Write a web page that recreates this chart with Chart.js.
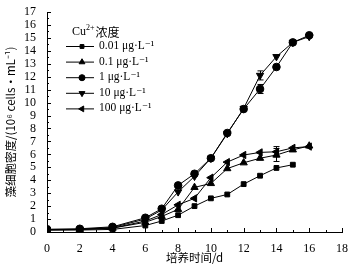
<!DOCTYPE html>
<html><head><meta charset="utf-8">
<script src="https://cdn.jsdelivr.net/npm/chart.js@4/dist/chart.umd.min.js"></script>
<style>html,body{margin:0;padding:0;background:#fff}#wrap{width:350px;height:270px}</style>
</head><body><div id="wrap"><canvas id="c" width="350" height="270"></canvas></div>
<script>
const days = [0, 2, 4, 6, 7, 8, 9, 10, 11, 12, 13, 14, 15, 16];
const seriesNames = ['0.01 μg·L⁻¹', '0.1 μg·L⁻¹', '1 μg·L⁻¹', '10 μg·L⁻¹', '100 μg·L⁻¹'];
const s001 = [0.15, 0.15, 0.2, 0.5, 0.85, 1.3, 2.0, 2.6, 2.9, 3.7, 4.35, 4.95, 5.2, null];
const s01  = [0.15, 0.2, 0.3, 0.75, 1.2, 1.75, 3.45, 3.75, 4.9, 5.35, 5.7, 5.95, 6.35, 6.65];
const s1   = [0.2, 0.25, 0.4, 1.1, 1.8, 3.6, 4.5, 5.7, 7.65, 9.5, 11.05, 12.75, 14.65, 15.2];
const s10  = [0.2, 0.2, 0.35, 1.0, 1.7, 3.1, 4.3, 5.7, 7.6, 9.55, 12.1, 13.55, 14.65, 15.1];
const s100 = [0.2, 0.2, 0.3, 0.85, 1.35, 2.1, 2.6, 4.2, 5.4, 5.95, 6.15, 6.2, 6.5, 6.6];
const e001 = [0, 0, 0, 0, 0, 0, 0, 0, 0, 0, 0, 0, 0, 0];
const e01  = [0, 0, 0, 0, 0, 0, 0, 0, 0, 0, 0, 0.5, 0, 0];
const e1   = [0, 0, 0, 0, 0, 0, 0, 0, 0, 0, 0.35, 0, 0, 0];
const e10  = [0, 0, 0, 0, 0, 0, 0, 0, 0, 0, 0.35, 0, 0, 0];
const e100 = [0, 0, 0, 0, 0, 0, 0, 0, 0, 0, 0, 0.4, 0, 0];
const legendTitle = 'Cu²⁺浓度';
const xTitle = '培养时间/d';
const yTitle = '藻细胞密度/(10⁶ cells·mL⁻¹)';

const SERIF = '"Liberation Serif","DejaVu Serif",serif';
const styles = [
  {pointStyle:'rect', rotation:0, radius:3.4},
  {pointStyle:'triangle', rotation:0, radius:4.2},
  {pointStyle:'circle', rotation:0, radius:3.8},
  {pointStyle:'triangle', rotation:180, radius:4.2},
  {pointStyle:'triangle', rotation:-90, radius:4.2}
];
const values = [s001, s01, s1, s10, s100];
const errs = [e001, e01, e1, e10, e100];

const datasets = values.map((v, i) => ({
  label: seriesNames[i],
  data: days.map((d, j) => v[j] == null ? null : {x: d, y: v[j]}).filter(p => p),
  borderColor: '#000', backgroundColor: '#000', borderWidth: 1,
  pointStyle: styles[i].pointStyle, pointRotation: styles[i].rotation,
  pointRadius: styles[i].radius, pointBorderWidth: 1, tension: 0,
  errs: errs[i]
}));

const extras = {
  id: 'extras',
  afterDatasetsDraw(chart) {
    const ctx = chart.ctx, xs = chart.scales.x, ys = chart.scales.y;
    ctx.save();
    ctx.strokeStyle = '#000'; ctx.lineWidth = 1;
    chart.data.datasets.forEach(ds => {
      ds.data.forEach((p, j) => {
        const e = ds.errs[j];
        if (!e) return;
        const px = Math.round(xs.getPixelForValue(p.x)) + 0.5;
        const y1 = ys.getPixelForValue(p.y - e), y2 = ys.getPixelForValue(p.y + e);
        ctx.beginPath(); ctx.moveTo(px, y1); ctx.lineTo(px, y2);
        ctx.moveTo(px - 3, y1); ctx.lineTo(px + 3, y1);
        ctx.moveTo(px - 3, y2); ctx.lineTo(px + 3, y2);
        ctx.stroke();
      });
    });
    const bottom = ys.getPixelForValue(0), left = xs.getPixelForValue(0);
    ctx.beginPath();
    for (let v = 0; v <= 18; v++) {
      const px = Math.round(xs.getPixelForValue(v)) + 0.5;
      const len = v % 2 === 0 ? 4 : 2;
      ctx.moveTo(px, bottom); ctx.lineTo(px, bottom - len);
    }
    for (let v = 0; v <= 17; v += 0.5) {
      const py = Math.round(ys.getPixelForValue(v)) + 0.5;
      const len = Number.isInteger(v) ? 4 : 2;
      ctx.moveTo(left, py); ctx.lineTo(left + len, py);
    }
    ctx.stroke();
    // legend
    const lx = 66, ly0 = 46, dy = 15.6;
    ctx.fillStyle = '#000';
    ctx.textBaseline = 'middle';
    ctx.font = '12px ' + SERIF;
    ctx.fillText('Cu', 72, 32);
    let w = ctx.measureText('Cu').width;
    ctx.font = '8px ' + SERIF;
    ctx.fillText('2+', 72 + w, 28);
    let w2 = ctx.measureText('2+').width;
    ctx.font = '12px "Noto Sans CJK SC",sans-serif';
    ctx.fillText('浓度', 72 + w + w2 + 1, 32);
    chart.data.datasets.forEach((ds, i) => {
      const y = ly0 + i * dy;
      ctx.beginPath(); ctx.moveTo(lx, y + 0.5); ctx.lineTo(lx + 28, y + 0.5); ctx.stroke();
      const st = styles[i];
      Chart.helpers.drawPoint(ctx, {pointStyle: st.pointStyle, rotation: st.rotation, radius: st.radius * 0.8, borderWidth: 1}, lx + 16, y + 0.5);
      ctx.font = '11.5px ' + SERIF;
      ctx.fillText(ds.label, lx + 33, y);
    });
    ctx.restore();
  }
};

new Chart(document.getElementById('c'), {
  type: 'line',
  data: {datasets},
  options: {
    responsive: false, animation: false, devicePixelRatio: 1,
    layout: {padding: {top: 12, right: 7, left: 0, bottom: 0}},
    plugins: {legend: {display: false}, tooltip: {enabled: false}},
    scales: {
      x: {
        type: 'linear', min: 0, max: 18,
        grid: {display: false}, border: {display: true, color: '#000', width: 1},
        ticks: {stepSize: 2, color: '#000', padding: 2, font: {family: SERIF, size: 12}, maxRotation: 0},
        title: {display: true, text: xTitle, color: '#000', font: {family: '"Noto Sans CJK SC",sans-serif', size: 11.5}, padding: {top: 0, bottom: 5}},
        afterFit(s) { s.height = 38; }
      },
      y: {
        type: 'linear', min: 0, max: 17,
        grid: {display: false}, border: {display: true, color: '#000', width: 1},
        ticks: {stepSize: 1, color: '#000', padding: 3, font: {family: SERIF, size: 12}, autoSkip: false},
        title: {display: true, text: yTitle, color: '#000', font: {family: '"Noto Sans CJK SC",sans-serif', size: 11.5}, padding: {top: 4, bottom: 0}},
        afterFit(s) { s.width = 47; }
      }
    }
  },
  plugins: [extras]
});
</script></body></html>
